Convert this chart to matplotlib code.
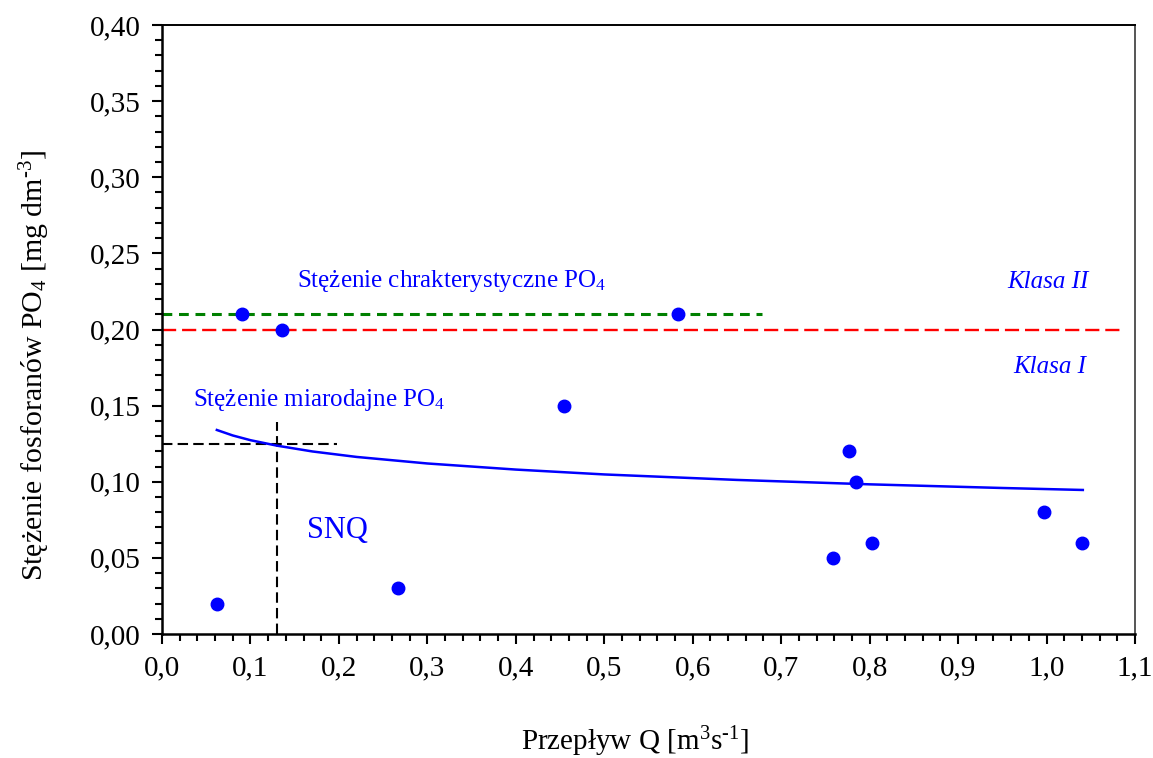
"""
Stężenie fosforanów PO4 w funkcji przepływu Q
"""

import numpy as np
import matplotlib.pyplot as plt
from matplotlib.ticker import MultipleLocator, FuncFormatter

plt.rcParams['font.family'] = ['Liberation Serif', 'DejaVu Serif']
plt.rcParams['mathtext.fontset'] = 'custom'
plt.rcParams['mathtext.rm'] = 'Liberation Serif'
plt.rcParams['mathtext.it'] = 'Liberation Serif:italic'

# pomiary
przeplyw = [0.062, 0.090, 0.136, 0.267, 0.454, 0.583, 0.759, 0.777, 0.785, 0.803, 0.997, 1.040]
stezenie = [0.02, 0.21, 0.20, 0.03, 0.15, 0.21, 0.05, 0.12, 0.10, 0.06, 0.08, 0.06]

# krzywa trendu (odczyt)
trend_q = [0.062, 0.08, 0.10, 0.13, 0.17, 0.22, 0.30, 0.40, 0.50, 0.65, 0.80, 0.95, 1.041]
trend_c = [0.134, 0.1304, 0.1273, 0.1237, 0.1199, 0.1163, 0.1120, 0.1080, 0.1048, 0.1012, 0.0983, 0.0959, 0.0946]

# SNQ i stężenie miarodajne
snq = 0.130
c_miarodajne = 0.125
snq_linia_max = 0.139
miarodajne_linia_max = 0.198

# stężenie charakterystyczne i granica klas
c_charakterystyczne = 0.21
charakterystyczne_max = 0.678
granica_klas = 0.20
granica_max = 1.087

fig = plt.figure(figsize=(11.53, 7.58), dpi=100)
ax = fig.add_axes([0.1405, 0.1636, 0.8439, 0.8034])

ax.plot([0, granica_max], [granica_klas, granica_klas], color='#ff0000',
        lw=1.7, dashes=(6, 2.5), zorder=2)
ax.plot([0, charakterystyczne_max], [c_charakterystyczne, c_charakterystyczne],
        color='#008000', lw=2.2, dashes=(3.2, 2.2), zorder=2)

ax.plot([0, miarodajne_linia_max], [c_miarodajne, c_miarodajne], color='black',
        lw=1.5, dashes=(5, 2.5), zorder=2)
ax.plot([snq, snq], [0, snq_linia_max], color='black', lw=1.5,
        dashes=(5, 2.5), zorder=2)

ax.plot(trend_q, trend_c, color='#0000ff', lw=1.8, zorder=3)
ax.plot(przeplyw, stezenie, 'o', color='#0000ff', ms=9, mec='#0000ff', zorder=4)

ax.text(0.153, 0.232, 'Stężenie chrakterystyczne PO$_\\mathregular{4}$', color='#0000ff',
        fontsize=18, ha='left', va='center')
ax.text(0.035, 0.1535, 'Stężenie miarodajne PO$_\\mathregular{4}$', color='#0000ff',
        fontsize=18, ha='left', va='center')
ax.text(0.164, 0.068, 'SNQ', color='#0000ff', fontsize=22, ha='left', va='center')
ax.text(1.002, 0.2315, 'Klasa II', color='#0000ff', fontsize=18, style='italic',
        ha='center', va='center')
ax.text(1.004, 0.1755, 'Klasa I', color='#0000ff', fontsize=18, style='italic',
        ha='center', va='center')

ax.set_xlim(0, 1.1)
ax.set_ylim(0, 0.40)
ax.xaxis.set_major_locator(MultipleLocator(0.1))
ax.xaxis.set_minor_locator(MultipleLocator(0.02))
ax.yaxis.set_major_locator(MultipleLocator(0.05))
ax.yaxis.set_minor_locator(MultipleLocator(0.01))
ax.xaxis.set_major_formatter(FuncFormatter(lambda v, p: f'{v:.1f}'.replace('.', ',')))
ax.yaxis.set_major_formatter(FuncFormatter(lambda v, p: f'{v:.2f}'.replace('.', ',')))

ax.tick_params(which='both', direction='out', width=1.5, labelsize=21, color='black')
ax.tick_params(which='major', length=7.2, pad=8)
ax.tick_params(which='minor', length=5)
ax.tick_params(top=False, right=False)

for side in ['left', 'bottom']:
    ax.spines[side].set_linewidth(1.8)
ax.spines['top'].set_linewidth(1.4)
ax.spines['right'].set_linewidth(1.4)
ax.spines['right'].set_color('#555555')

fig.text(635 / 1153, 1 - 742 / 758,
         'Przepływ Q [m$^\\mathregular{3}$s$^{\\text{-}\\mathregular{1}}$]',
         fontsize=21, ha='center', va='center')
fig.text(35 / 1153, 1 - 365 / 758,
         'Stężenie fosforanów PO$_\\mathregular{4}$ [mg dm$^{\\text{-}\\mathregular{3}}$]',
         fontsize=21.5, rotation=90, ha='center', va='center')

fig.savefig('out.png', dpi=100)
